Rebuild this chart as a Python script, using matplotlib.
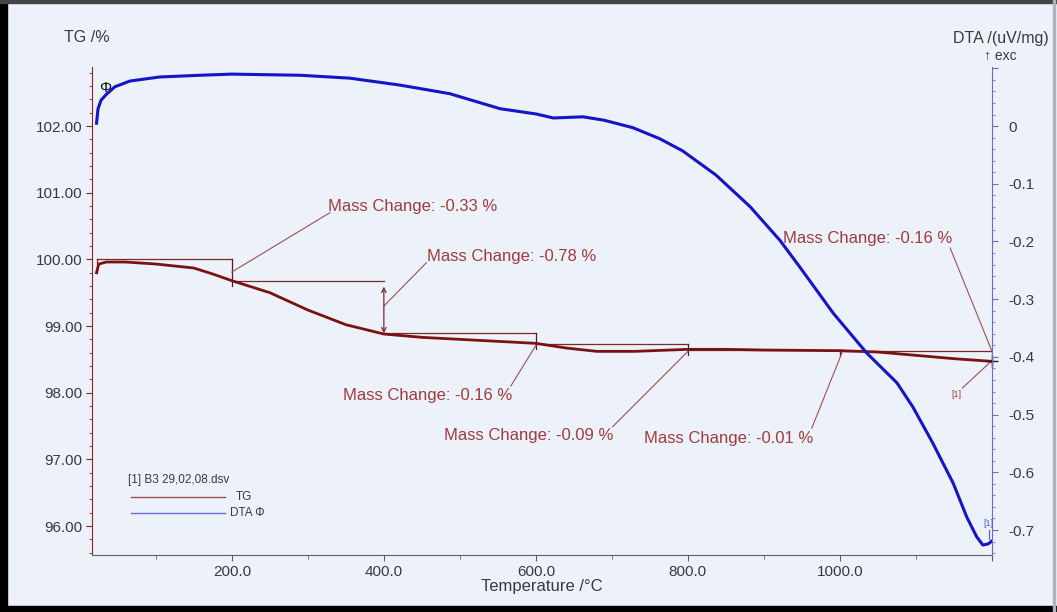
import numpy as np
import matplotlib
matplotlib.use("Agg")
import matplotlib.pyplot as plt
from matplotlib.ticker import MultipleLocator, FuncFormatter
from matplotlib.patches import Rectangle

plt.rcParams['font.family'] = ['Liberation Sans', 'DejaVu Sans']
plt.rcParams['axes.unicode_minus'] = False

# TG curve (temperature in degC, mass in %)
tg_temp = [22, 25, 35, 60, 100, 150, 175, 200, 250, 300, 350, 400, 450, 500, 550,
           600, 640, 680, 730, 800, 850, 900, 1000, 1050, 1100, 1150, 1200]
tg_mass = [99.80, 99.93, 99.96, 99.96, 99.93, 99.87, 99.78, 99.68, 99.50, 99.24, 99.02,
           98.88, 98.83, 98.80, 98.77, 98.74, 98.67, 98.62, 98.62, 98.65, 98.65, 98.64,
           98.63, 98.61, 98.56, 98.51, 98.47]

# DTA curve (uV/mg)
dta_temp = [22, 24, 28, 35, 46, 66, 105, 158, 200, 290, 355, 421, 487, 553, 600, 623,
            662, 690, 728, 763, 793, 837, 882, 921, 947, 991, 1035, 1075, 1096, 1122,
            1149, 1167, 1180, 1188, 1195, 1200]
dta_val = [0.005, 0.030, 0.045, 0.055, 0.068, 0.078, 0.085, 0.088, 0.090, 0.088, 0.083,
           0.071, 0.056, 0.030, 0.021, 0.014, 0.016, 0.010, -0.003, -0.022, -0.043,
           -0.085, -0.140, -0.198, -0.244, -0.324, -0.393, -0.445, -0.487, -0.549,
           -0.619, -0.678, -0.712, -0.726, -0.724, -0.719]

# mass change steps
step_temp = [22, 200, 400, 600, 800, 1000, 1200]
step_ref = [100.00, 99.67, 98.89, 98.73, 98.64, 98.63]
mass_change = ['-0.33', '-0.78', '-0.16', '-0.09', '-0.01', '-0.16']

bg = '#EDF1FA'
c_tg = '#7A1212'
c_dta = '#1414C8'
c_ann = '#A03C3C'
c_txt = '#3A3A3A'

fig = plt.figure(figsize=(10.57, 6.12), dpi=100, facecolor=bg)
ax = fig.add_axes([0.087, 0.0931, 0.8515, 0.7974], facecolor=bg)
ax2 = ax.twinx()

ax.set_xlim(16, 1200)
ax.set_ylim(95.565, 102.885)
ax2.set_ylim(-0.7433, 0.1023)

# curves
ax2.plot(dta_temp, dta_val, color=c_dta, lw=2.2, zorder=3)
ax.plot(tg_temp, tg_mass, color=c_tg, lw=2.0, zorder=3)

# step boxes and markers
tg_at = lambda t: float(np.interp(t, tg_temp, tg_mass))
for i in range(6):
    t0, t1 = step_temp[i], step_temp[i + 1]
    ref = step_ref[i]
    ax.plot([t0, t1], [ref, ref], color='#7A2A2A', lw=0.9, zorder=2)
    if i != 1:
        ax.plot([t1, t1], [ref, tg_at(t1) - 0.08], color='#5A1A1A', lw=0.9, zorder=2)
    if i == 0:
        ax.plot([t0, t0], [ref, tg_at(t0)], color='#7A2A2A', lw=0.9, zorder=2)
ax.annotate('', xy=(400, step_ref[2]), xytext=(400, step_ref[1] - 0.08),
            arrowprops=dict(arrowstyle='<->', color='#7A2A2A', lw=0.9,
                            mutation_scale=8, shrinkA=0, shrinkB=0))
ax.plot([1200], [tg_at(1200)], marker='+', color='#222222', ms=9, mew=1, zorder=4,
        clip_on=False)

# labels: (text x, text y, ha, leader start, leader end)
labels = [
    (326, 100.79, 'left', (329, 100.70), (200, 99.81)),
    (457, 100.05, 'left', (456, 99.95), (400, 99.30)),
    (458, 97.965, 'center', (567, 98.10), (600, 98.71)),
    (590, 97.365, 'center', (701, 97.49), (800, 98.62)),
    (853, 97.32, 'center', (963, 97.47), (1003, 98.61)),
    (1037, 100.32, 'center', (1145, 100.17), (1200, 98.62)),
]
for (tx, ty, ha, p0, p1), mc in zip(labels, mass_change):
    ax.text(tx, ty, f'Mass Change: {mc} %', color=c_ann, fontsize=12, ha=ha,
            va='center')
    ax.plot([p0[0], p1[0]], [p0[1], p1[1]], color='#A05050', lw=0.8, zorder=2)

ax.text(1153, 97.98, '[1]', color=c_ann, fontsize=6.5, ha='center', va='center')
ax.plot([1161, 1198], [98.07, 98.46], color='#A05050', lw=0.8)
ax2.text(1195, -0.688, '[1]', color='#5555CC', fontsize=6.5, ha='center', va='center')
ax2.plot([1196, 1196], [-0.700, -0.716], color='#5555CC', lw=0.8)
ax.text(25, 102.57, 'Φ', color='#111111', fontsize=11, ha='left', va='center')

# legend
ax.text(0.040, 0.154, '[1] B3 29,02,08.dsv', transform=ax.transAxes, fontsize=8.5,
        color=c_txt, va='center')
ax.plot([0.043, 0.148], [0.119, 0.119], transform=ax.transAxes, color='#A05050', lw=1)
ax.text(0.160, 0.119, 'TG', transform=ax.transAxes, fontsize=8.5, color=c_txt,
        va='center')
ax.plot([0.043, 0.148], [0.086, 0.086], transform=ax.transAxes, color='#6A6AD8', lw=1)
ax.text(0.153, 0.086, 'DTA Φ', transform=ax.transAxes, fontsize=8.5, color=c_txt,
        va='center')

# axes styling
for a in (ax, ax2):
    a.spines['top'].set_visible(False)
ax.spines['right'].set_visible(False)
ax2.spines['left'].set_visible(False)
ax2.spines['bottom'].set_visible(False)
ax.spines['left'].set_color('#8B2525')
ax.spines['bottom'].set_color('#606060')
ax2.spines['right'].set_color('#6A6AD8')

ax.xaxis.set_major_locator(MultipleLocator(200))
ax.xaxis.set_minor_locator(MultipleLocator(100))
ax.xaxis.set_major_formatter(FuncFormatter(lambda v, p: f'{v:.1f}' if 0 < v < 1200 else ''))
ax.yaxis.set_major_locator(MultipleLocator(1))
ax.yaxis.set_minor_locator(MultipleLocator(0.2))
ax.yaxis.set_major_formatter(FuncFormatter(lambda v, p: f'{v:.2f}'))
ax2.yaxis.set_major_locator(MultipleLocator(0.1))
ax2.yaxis.set_minor_locator(MultipleLocator(0.02))
ax2.yaxis.set_major_formatter(FuncFormatter(
    lambda v, p: '' if v > 0.05 else ('0' if abs(v) < 1e-9 else f'{v:.1f}')))

ax.tick_params(axis='x', which='both', colors='#606060', labelcolor=c_txt,
               labelsize=11, direction='out', length=4, pad=3)
ax.tick_params(axis='x', which='minor', length=3)
ax.tick_params(axis='y', which='both', colors='#8B2525', labelcolor=c_txt,
               labelsize=11, direction='out', length=4, pad=3)
ax.tick_params(axis='y', which='minor', length=2)
ax2.tick_params(axis='y', which='both', colors='#6A6AD8', labelcolor=c_txt,
                labelsize=11, direction='out', length=4, pad=8)
ax2.tick_params(axis='y', which='minor', length=2)

# axis titles
fig.text(64 / 1057, 1 - 38 / 612, 'TG /%', fontsize=11.5, color=c_txt, va='center')
fig.text(1049 / 1057, 1 - 38 / 612, 'DTA /(uV/mg)', fontsize=11.5, color=c_txt,
         ha='right', va='center')
fig.text(1000 / 1057, 1 - 56 / 612, '↑ exc', fontsize=10, color=c_txt, ha='center',
         va='center')
fig.text(542 / 1057, 1 - 586 / 612, 'Temperature /°C', fontsize=12, color=c_txt,
         ha='center', va='center')

# screenshot frame
fig.patches.append(Rectangle((0, 0), 7 / 1057, 1, transform=fig.transFigure,
                             color='black', zorder=10))
fig.patches.append(Rectangle((0, 0), 1, 6 / 612, transform=fig.transFigure,
                             color='black', zorder=10))
fig.patches.append(Rectangle((0, 1 - 3 / 612), 1, 3 / 612, transform=fig.transFigure,
                             color='#444444', zorder=10))
fig.patches.append(Rectangle((1053 / 1057, 0), 1.5 / 1057, 1, transform=fig.transFigure,
                             color='#B0B4BC', zorder=10))

fig.savefig('out.png', dpi=100, facecolor=bg)
